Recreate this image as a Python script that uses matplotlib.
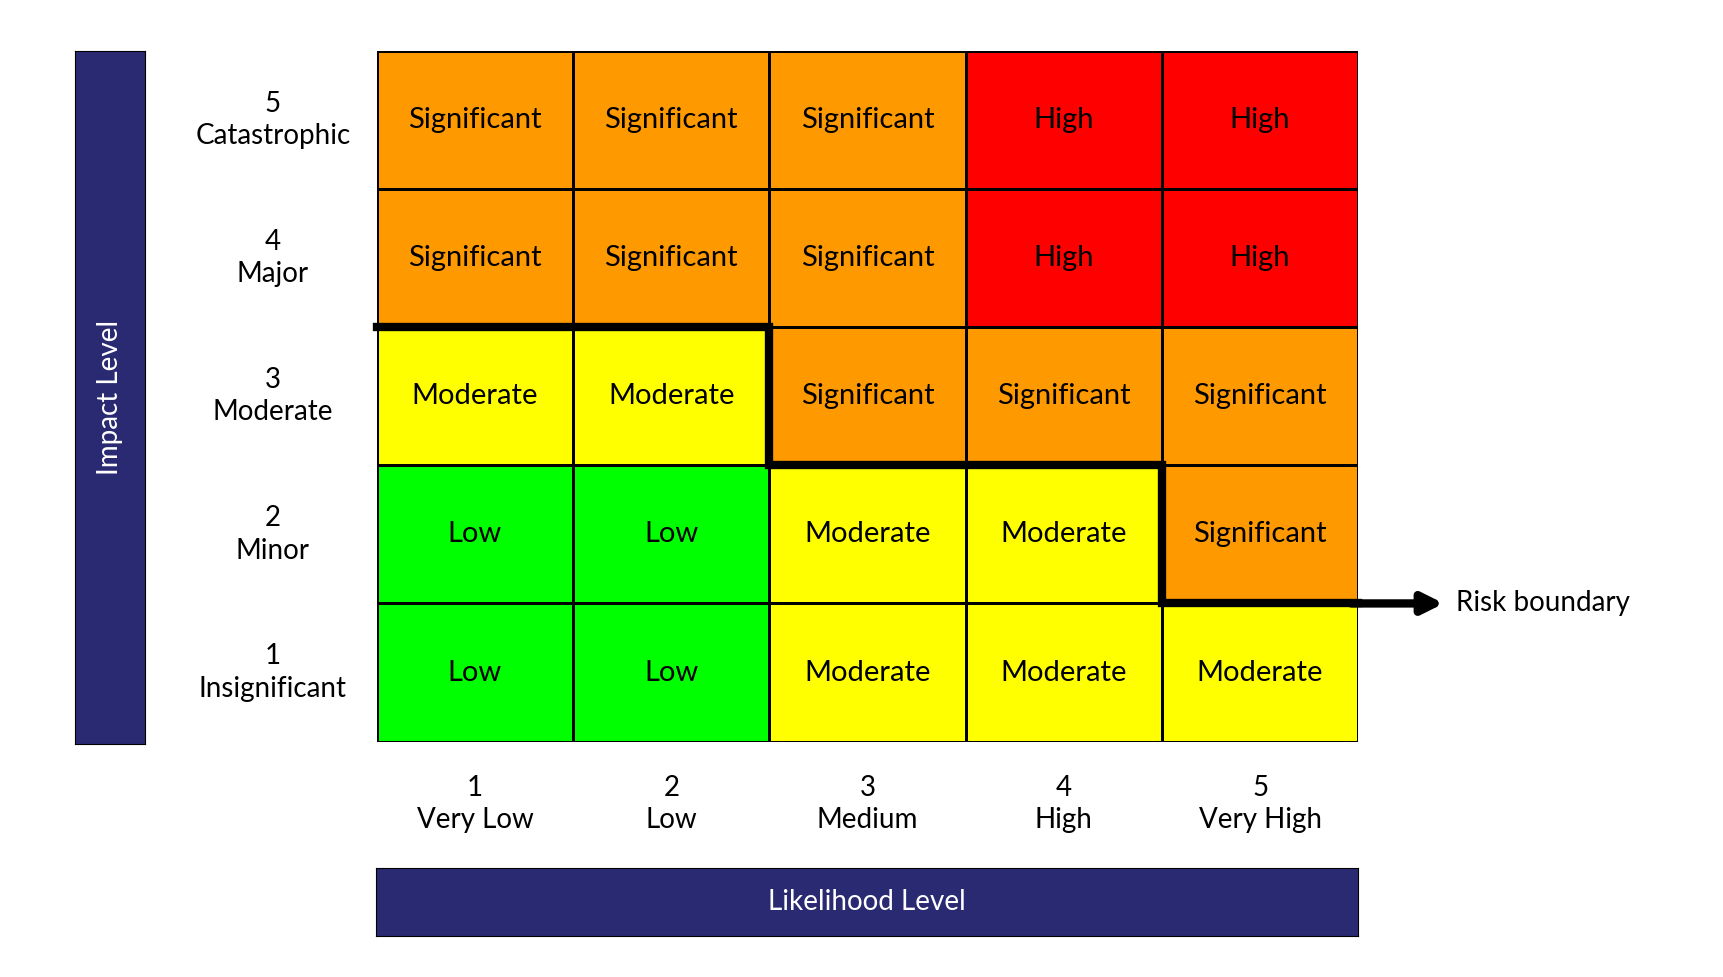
import numpy as np
import matplotlib.pyplot as plt
from matplotlib.colors import ListedColormap

plt.rcParams['font.family'] = ['Lato', 'DejaVu Sans']

likelihood = ["1\nVery Low", "2\nLow", "3\nMedium", "4\nHigh", "5\nVery High"]
impact = ["1\nInsignificant", "2\nMinor", "3\nModerate", "4\nMajor", "5\nCatastrophic"]
levels = ["Low", "Moderate", "Significant", "High"]
level_colors = ["#00FF00", "#FFFF00", "#FF9900", "#FF0000"]
# rows: impact 1..5, cols: likelihood 1..5
matrix = [
    [0, 0, 1, 1, 1],
    [0, 0, 1, 1, 2],
    [1, 1, 2, 2, 2],
    [2, 2, 2, 3, 3],
    [2, 2, 2, 3, 3],
]
# boundary steps (x, y) in cell coordinates
boundary_x = [0.5, 2.5, 2.5, 4.5, 4.5, 5.5]
boundary_y = [3.5, 3.5, 2.5, 2.5, 1.5, 1.5]
navy = "#2A2A72"

W, H = 1560, 884
fig = plt.figure(figsize=(17.24, 9.77), dpi=100)
ax = fig.add_axes([341 / W, 1 - 671 / H, 888 / W, 625 / H])
m = np.array(matrix)
ax.pcolormesh(np.arange(0.5, 6, 1), np.arange(0.5, 6, 1), m,
              cmap=ListedColormap(level_colors), vmin=-0.5, vmax=3.5,
              edgecolors="black", linewidth=1)
ax.set_xlim(0.5, 5.5)
ax.set_ylim(0.5, 5.5)
ax.axis("off")
for i in range(5):
    for j in range(5):
        ax.text(j + 1, i + 1, levels[m[i, j]], ha="center", va="center", fontsize=21)
for k in range(5):
    ax.text(k + 1, 0.05, likelihood[k], ha="center", va="center", fontsize=20,
            linespacing=1.3, clip_on=False)
    ax.text(-0.03, k + 1, impact[k], ha="center", va="center", fontsize=20,
            linespacing=1.3, clip_on=False)
ax.plot(boundary_x, boundary_y, color="black", lw=6, solid_joinstyle="miter",
        clip_on=False)
ax.annotate("", xy=(5.95, 1.5), xytext=(5.45, 1.5),
            arrowprops=dict(arrowstyle="-|>,head_width=0.6,head_length=1.2",
                            color="black", lw=6), annotation_clip=False)
ax.text(6.0, 1.5, "Risk boundary", ha="left", va="center", fontsize=20, clip_on=False)

lax = fig.add_axes([68 / W, 1 - 673 / H, 63 / W, 627 / H])
lax.set_facecolor(navy)
lax.set_xticks([]); lax.set_yticks([])
lax.text(0.5, 0.5, "Impact Level", rotation=90, color="white", ha="center",
         va="center", fontsize=20, transform=lax.transAxes)
bax = fig.add_axes([340 / W, 1 - 847 / H, 889 / W, 62 / H])
bax.set_facecolor(navy)
bax.set_xticks([]); bax.set_yticks([])
bax.text(0.5, 0.5, "Likelihood Level", color="white", ha="center",
         va="center", fontsize=20, transform=bax.transAxes)

fig.savefig("out.png", dpi=100, facecolor="white")
